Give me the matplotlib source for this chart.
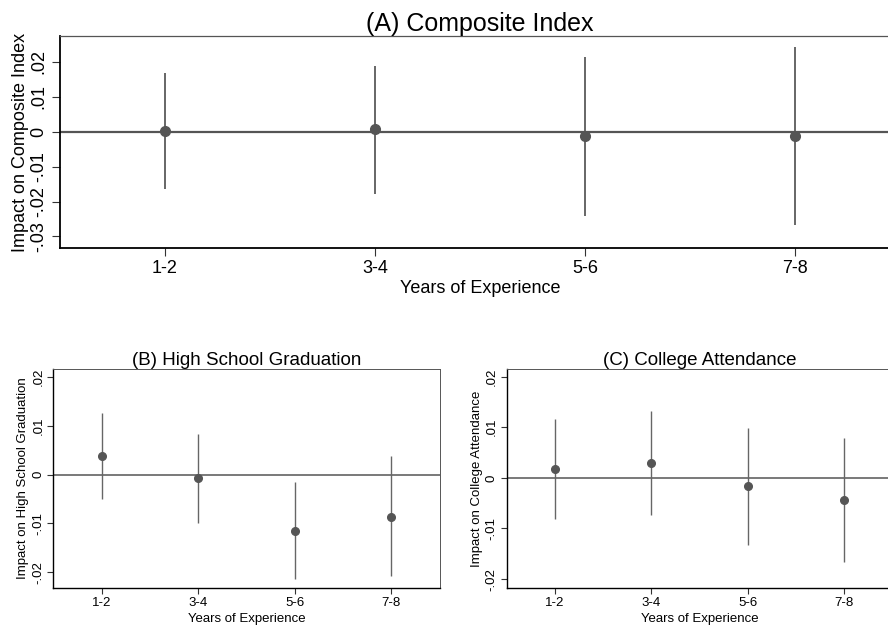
import matplotlib
matplotlib.use("Agg")
import matplotlib.pyplot as plt

plt.rcParams['font.family'] = ['Liberation Sans', 'DejaVu Sans']

# categories
groups = ["1-2", "3-4", "5-6", "7-8"]

# (A) Composite Index
comp_est = [0.0002, 0.0007, -0.0012, -0.0012]
comp_lo = [-0.0163, -0.0177, -0.0240, -0.0268]
comp_hi = [0.0167, 0.0188, 0.0213, 0.0242]

# (B) High School Graduation
hs_est = [0.0039, -0.0008, -0.0116, -0.0086]
hs_lo = [-0.0050, -0.0100, -0.0214, -0.0209]
hs_hi = [0.0127, 0.0084, -0.0016, 0.0038]

# (C) College Attendance
col_est = [0.0018, 0.0029, -0.0016, -0.0044]
col_lo = [-0.0082, -0.0074, -0.0132, -0.0167]
col_hi = [0.0116, 0.0132, 0.0099, 0.0079]

ticks_a = [-0.03, -0.02, -0.01, 0, 0.01, 0.02]
labels_a = ["-.03", "-.02", "-.01", "0", ".01", ".02"]
ticks_bc = [-0.02, -0.01, 0, 0.01, 0.02]
labels_bc = ["-.02", "-.01", "0", ".01", ".02"]

W, H = 888, 627
fig = plt.figure(figsize=(W / 100, H / 100), dpi=100)


def px_axes(left, right, top, bottom):
    return fig.add_axes([left / W, 1 - bottom / H, (right - left) / W, (bottom - top) / H])


def panel(ax, est, lo, hi, title, ylabel, yticks, ylabels, ylim, big):
    x = list(range(1, len(groups) + 1))
    fs_title = 18 if big else 13.5
    fs_tick = 13 if big else 9.5
    fs_lab = 13 if big else 9.5
    lw = 1.4 if big else 1.0
    ms = 7 if big else 5.5

    ax.axhline(0, color="#555555", lw=1.6 if big else 1.1, zorder=1)
    ax.vlines(x, lo, hi, color="#666666", lw=lw, zorder=2)
    ax.plot(x, est, "o", color="#555555", ms=ms, zorder=3)

    ax.set_xlim(0.5, len(groups) + 0.5)
    ax.set_ylim(*ylim)
    ax.set_xticks(x)
    ax.set_xticklabels(groups, fontsize=fs_tick)
    ax.set_yticks(yticks)
    ax.set_yticklabels(ylabels, fontsize=fs_tick, rotation=90, va="center")

    ax.set_title(title, fontsize=fs_title, pad=3 if big else 2)
    ax.set_xlabel("Years of Experience", fontsize=fs_lab, labelpad=2 if big else 3)
    ax.set_ylabel(ylabel, fontsize=fs_lab, labelpad=1 if big else 2)

    ax.tick_params(length=6 if big else 4.5, width=0.8, color="#333333",
                   pad=3 if big else 2)
    for side in ["left", "bottom"]:
        ax.spines[side].set_color("black")
        ax.spines[side].set_linewidth(1.3 if big else 1.0)
    for side in ["top", "right"]:
        ax.spines[side].set_color("#555555")
        ax.spines[side].set_linewidth(0.9 if big else 0.7)


ax_a = px_axes(60, 900, 36, 248)
panel(ax_a, comp_est, comp_lo, comp_hi, "(A) Composite Index",
      "Impact on Composite Index", ticks_a, labels_a, (-0.0333, 0.0274), True)

ax_b = px_axes(53.3, 439.5, 369.3, 587.7)
panel(ax_b, hs_est, hs_lo, hs_hi, "(B) High School Graduation",
      "Impact on High School Graduation", ticks_bc, labels_bc, (-0.0232, 0.0216), False)

ax_c = px_axes(506.7, 892.5, 369, 587.7)
panel(ax_c, col_est, col_lo, col_hi, "(C) College Attendance",
      "Impact on College Attendance", ticks_bc, labels_bc, (-0.0217, 0.0215), False)

fig.savefig("out.png", dpi=100)
